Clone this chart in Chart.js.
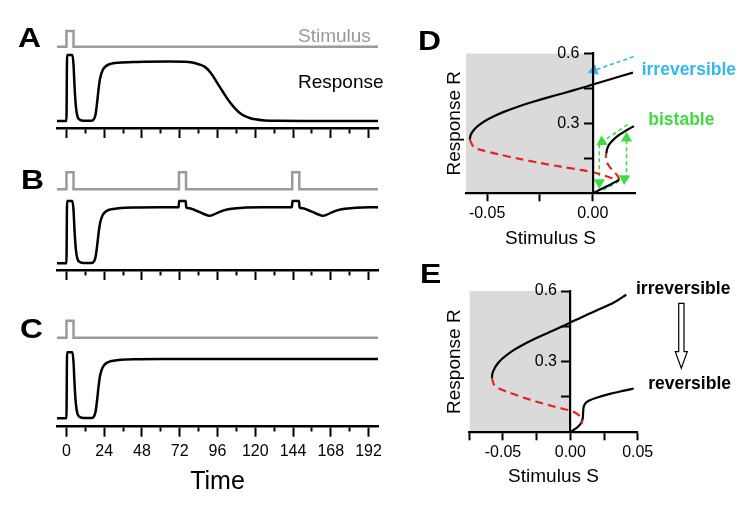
<!DOCTYPE html>
<html>
<head>
<meta charset="utf-8">
<script src="https://cdn.jsdelivr.net/npm/chart.js@4.4.1/dist/chart.umd.min.js"></script>
<style>
  body { margin: 0; background: #fff; width: 750px; height: 515px; position: relative; overflow: hidden;
         font-family: 'Liberation Sans', Arial, sans-serif; }
  canvas { position: absolute; }
  .lbl { position: absolute; line-height: 1; white-space: nowrap; transform: translateY(-50%); }
  .panel { font-weight: bold; font-size: 27px; color: #000; transform: translateY(-50%) scaleX(1.18); transform-origin: left center; }
</style>
</head>
<body>
<canvas id="cA" width="400" height="140" style="left:0;top:0"></canvas>
<canvas id="cB" width="400" height="132" style="left:0;top:150px"></canvas>
<canvas id="cC" width="400" height="215" style="left:0;top:300px"></canvas>
<canvas id="cD" width="350" height="260" style="left:400px;top:0"></canvas>
<canvas id="cE" width="350" height="255" style="left:400px;top:260px"></canvas>

<div class="lbl panel" style="left:18px;top:37.5px">A</div>
<div class="lbl panel" style="left:21px;top:179.7px">B</div>
<div class="lbl panel" style="left:20px;top:329px">C</div>
<div class="lbl panel" style="left:418px;top:40.8px">D</div>
<div class="lbl panel" style="left:420px;top:274px">E</div>
<div class="lbl" style="left:298px;top:35px;font-size:19px;color:#999">Stimulus</div>
<div class="lbl" style="left:298px;top:80.8px;font-size:19px;color:#000">Response</div>
<div class="lbl" style="left:641.7px;top:70px;font-size:17.5px;font-weight:bold;color:#35b8ea">irreversible</div>
<div class="lbl" style="left:648.3px;top:119.7px;font-size:17.5px;font-weight:bold;color:#3fdc3f">bistable</div>
<div class="lbl" style="left:636px;top:289px;font-size:17.5px;font-weight:bold;color:#000">irreversible</div>
<div class="lbl" style="left:648.3px;top:383.8px;font-size:17.5px;font-weight:bold;color:#000">reversible</div>

<script>
// --- TIME COURSE DATA (panels A-C) ---
const timeTicks = [0, 12, 24, 36, 48, 60, 72, 84, 96, 108, 120, 132, 144, 156, 168, 180, 192];

// stimulus on/off
const stimSingle = [[-6, 0], [0, 0], [0, 1], [4.5, 1], [4.5, 0], [198, 0]];
const stimRepeat = [[-6, 0], [0, 0], [0, 1], [4.5, 1], [4.5, 0], [71.5, 0], [71.5, 1], [76, 1], [76, 0],
  [143.5, 0], [143.5, 1], [148, 1], [148, 0], [198, 0]];

// response traces
const respA = [[-6, 0], [0, 0], [0.4, 1], [3.8, 1], [4.5, 0.85], [5.2, 0.5], [6, 0.22], [7, 0.07], [8.5, 0.02],
  [11, 0.005], [16, 0.005], [17.5, 0.03], [18.5, 0.1], [19.5, 0.28], [20.5, 0.5], [21.5, 0.66], [23, 0.77],
  [25, 0.83], [28, 0.865], [33, 0.883], [45, 0.895], [65, 0.9], [75, 0.897], [80, 0.885], [84, 0.86],
  [88, 0.82], [92, 0.72], [96, 0.57], [100, 0.42], [104, 0.28], [108, 0.17], [112, 0.09], [116, 0.05],
  [120, 0.025], [126, 0.008], [135, 0.002], [150, 0], [198, 0]];
const respB = [[-6, 0], [0, 0], [0.4, 1], [3.8, 1], [4.5, 0.85], [5.2, 0.5], [6, 0.22], [7, 0.07], [8.5, 0.02],
  [11, 0.005], [16, 0.005], [17.5, 0.03], [18.5, 0.1], [19.5, 0.28], [20.5, 0.5], [21.5, 0.66], [23, 0.77],
  [25, 0.83], [28, 0.865], [33, 0.883], [45, 0.895], [60, 0.9], [71.3, 0.9], [71.6, 1], [75.8, 1], [76.1, 0.9],
  [78, 0.885], [81, 0.86], [84, 0.83], [87, 0.795], [89.5, 0.77], [91, 0.762], [93, 0.775], [96, 0.81],
  [100, 0.85], [105, 0.875], [112, 0.893], [125, 0.9], [143.3, 0.9], [143.6, 1], [147.8, 1], [148.1, 0.9],
  [150, 0.885], [153, 0.86], [156, 0.83], [159, 0.795], [161.5, 0.77], [163, 0.762], [165, 0.775],
  [168, 0.81], [172, 0.85], [177, 0.875], [184, 0.893], [198, 0.9]];
const respC = [[-6, 0], [0, 0], [0.4, 1], [3.8, 1], [4.5, 0.85], [5.2, 0.5], [6, 0.22], [7, 0.07], [8.5, 0.02],
  [11, 0.005], [16, 0.005], [17.5, 0.03], [18.5, 0.1], [19.5, 0.28], [20.5, 0.5], [21.5, 0.66], [23, 0.77],
  [25, 0.83], [28, 0.865], [33, 0.883], [45, 0.895], [60, 0.9], [198, 0.9]];

// --- BIFURCATION DATA (panels D, E) ---
const upperD = [[-0.0582, 0.231], [-0.0578, 0.25], [-0.0564, 0.27], [-0.0542, 0.29], [-0.051, 0.31],
  [-0.0468, 0.33], [-0.0418, 0.35], [-0.0358, 0.37], [-0.029, 0.39], [-0.0215, 0.41], [-0.0135, 0.43],
  [-0.0058, 0.45], [0, 0.466], [0.0088, 0.49], [0.019, 0.517]];
const unstableD = [[-0.0582, 0.231], [-0.0565, 0.2], [-0.053, 0.186], [-0.045, 0.168], [-0.035, 0.148],
  [-0.025, 0.13], [-0.015, 0.114], [-0.005, 0.099], [0, 0.09], [0.004, 0.08], [0.0075, 0.07], [0.01, 0.062]];
const lowerD = [[0, 0], [0.004, 0.018], [0.008, 0.036], [0.011, 0.05], [0.0125, 0.058]];
const middleD = [[0.0125, 0.058], [0.0118, 0.075], [0.0098, 0.095], [0.0078, 0.115], [0.0066, 0.135],
  [0.0062, 0.155], [0.0064, 0.17]];
const highD = [[0.0064, 0.17], [0.0068, 0.19], [0.0078, 0.21], [0.0098, 0.23], [0.0125, 0.25], [0.016, 0.27],
  [0.0195, 0.288]];
const greenArrows = [
  [[0.0165, 0.294], [0.0043, 0.22]],
  [[0.0031, 0.21], [0.0031, 0.046]],
  [[0.005, 0.015], [0.015, 0.063]],
  [[0.016, 0.06], [0.016, 0.236]]
];
const blueArrow = [[0.0193, 0.586], [0.0005, 0.526]];

const upperE = [[-0.0582, 0.231], [-0.0578, 0.25], [-0.0564, 0.27], [-0.0542, 0.29], [-0.051, 0.31],
  [-0.0468, 0.33], [-0.0418, 0.35], [-0.0358, 0.37], [-0.029, 0.39], [-0.0215, 0.41], [-0.0135, 0.43],
  [-0.0058, 0.45], [0, 0.466], [0.0088, 0.49], [0.0205, 0.52], [0.032, 0.55], [0.0415, 0.584]];
const unstableE = [[-0.0582, 0.231], [-0.0565, 0.2], [-0.053, 0.186], [-0.045, 0.168], [-0.035, 0.148],
  [-0.025, 0.13], [-0.015, 0.114], [-0.005, 0.099], [0, 0.092], [0.004, 0.082], [0.0075, 0.066],
  [0.0088, 0.05], [0.0083, 0.035]];
const reversibleE = [[0, 0], [0.003, 0.012], [0.006, 0.026], [0.0082, 0.042], [0.0092, 0.06], [0.0095, 0.085],
  [0.0098, 0.105], [0.011, 0.122], [0.014, 0.135], [0.02, 0.148], [0.03, 0.164], [0.04, 0.177], [0.047, 0.186]];

const ticksSD = [-0.05, -0.025, 0];
const labelsSD = [-0.05, 0];
const ticksSE = [-0.075, -0.05, -0.025, 0, 0.025, 0.05];
const labelsSE = [-0.05, 0, 0.05];
const ticksR = [0.15, 0.3, 0.45, 0.6];
const labelsR = [0.3, 0.6];

Chart.defaults.font.family = "'Liberation Sans', Arial, sans-serif";
Chart.defaults.color = '#000';

const toXY = (pairs) => pairs.map(([x, y]) => ({ x, y }));

// --- TIME COURSE CHARTS ---
function timeChart(id, stim, resp, yR, yS, pad, showLabels) {
  new Chart(document.getElementById(id), {
    type: 'scatter',
    data: {
      datasets: [
        { data: toXY(stim), yAxisID: 'ys', showLine: true, borderColor: '#9a9a9a', borderWidth: 2.5,
          pointRadius: 0, tension: 0 },
        { data: toXY(resp), yAxisID: 'y', showLine: true, borderColor: '#000', borderWidth: 2.5,
          pointRadius: 0, cubicInterpolationMode: 'monotone' }
      ]
    },
    options: {
      responsive: false, animation: false, devicePixelRatio: 1,
      layout: { padding: pad },
      plugins: { legend: { display: false }, tooltip: { enabled: false } },
      scales: {
        x: {
          type: 'linear', min: -6, max: 198,
          afterBuildTicks: (a) => { a.ticks = timeTicks.map((v) => ({ value: v })); },
          border: { display: true, color: '#000', width: 2.5 },
          grid: { drawOnChartArea: false, tickLength: 10, tickWidth: 2, tickColor: '#000',
                  tickBorderDash: (c) => (c.tick && c.tick.value % 24 ? [4, 30] : []) },
          ticks: { display: showLabels, autoSkip: false, maxRotation: 0, padding: 5.4, font: { size: 16 },
                   callback: (v) => (v % 24 === 0 ? String(v) : '') },
          title: { display: showLabels, text: 'Time', font: { size: 25 }, padding: { top: 0.3, bottom: 0 } }
        },
        y: { display: false, min: yR[0], max: yR[1] },
        ys: { display: false, min: yS[0], max: yS[1] }
      }
    }
  });
}

timeChart('cA', stimSingle, respA, [-0.106, 1.53], [-5.18, 1.70], { left: 57, right: 22, top: 20, bottom: 2 }, false);
timeChart('cB', stimRepeat, respB, [-0.108, 1.658], [-4.75, 1.72], { left: 57, right: 22, top: 10, bottom: 2 }, false);
timeChart('cC', stimSingle, respC, [-0.127, 1.641], [-5.235, 1.63], { left: 57, right: 22, top: 10, bottom: 18 }, true);

// --- BIFURCATION CHARTS ---
const arrowRotation = (ctx) => {
  const d = ctx.dataset.data;
  const s = ctx.chart.scales;
  const a = d[0];
  const b = d[d.length - 1];
  const dx = s.x.getPixelForValue(b.x) - s.x.getPixelForValue(a.x);
  const dy = s.y.getPixelForValue(b.y) - s.y.getPixelForValue(a.y);
  return (Math.atan2(dx, -dy) * 180) / Math.PI;
};

function curve(pairs, color, dashed) {
  return { data: toXY(pairs), showLine: true, borderColor: color, borderWidth: 2.2, pointRadius: 0,
           tension: 0.3, borderDash: dashed ? [8, 5] : [] };
}

function arrow(pairs, color) {
  return { data: toXY(pairs), showLine: true, borderColor: color, borderWidth: 1.6, borderDash: [4, 3],
           pointRadius: [0, 6.5], pointStyle: 'triangle', pointBackgroundColor: color, pointBorderWidth: 0,
           pointRotation: arrowRotation, tension: 0 };
}

function shade(xMin) {
  return { data: toXY([[xMin, 0.6], [0, 0.6]]), showLine: true, borderWidth: 0, pointRadius: 0,
           backgroundColor: '#dadada', fill: 'origin', order: 99 };
}

function bifOptions(xMin, xMax, ticksS, labelsS, pad, tickPad, titlePad, rTitlePad) {
  return {
    responsive: false, animation: false, devicePixelRatio: 1,
    layout: { padding: pad },
    plugins: { legend: { display: false }, tooltip: { enabled: false } },
    scales: {
      x: {
        type: 'linear', min: xMin, max: xMax,
        afterBuildTicks: (a) => { a.ticks = ticksS.map((v) => ({ value: v })); },
        border: { color: '#000', width: 2.2, z: 1 },
        grid: { drawOnChartArea: false, tickLength: 8, tickWidth: 2, tickColor: '#000', z: 1 },
        ticks: { autoSkip: false, maxRotation: 0, padding: tickPad, font: { size: 16 }, z: 1,
                 callback: (v) => (labelsS.includes(v) ? v.toFixed(2) : '') },
        title: { display: true, text: 'Stimulus S', font: { size: 19 }, padding: titlePad }
      },
      y: {
        type: 'linear', min: 0, max: 0.6, position: { x: 0 },
        afterBuildTicks: (a) => { a.ticks = ticksR.map((v) => ({ value: v })); },
        border: { color: '#000', width: 2.2, z: 1 },
        grid: { drawOnChartArea: false, tickLength: 8, tickWidth: 2, tickColor: '#000', z: 1 },
        // label sits right-aligned on the axis line, trailing spaces clear the tick marks
        ticks: { autoSkip: false, padding: 3, font: { size: 16 }, z: 1,
                 callback: (v) => (labelsR.includes(v) ? v.toFixed(1) + '   ' : '') }
      },
      yt: {
        position: 'left',
        grid: { display: false, drawTicks: false },
        border: { display: false },
        ticks: { display: false },
        title: { display: true, text: 'Response R', font: { size: 19 }, padding: rTitlePad }
      }
    }
  };
}

new Chart(document.getElementById('cD'), {
  type: 'scatter',
  data: {
    datasets: [
      curve(upperD, '#000', false),
      curve(unstableD, '#e8231f', true),
      curve(lowerD, '#000', false),
      curve(middleD, '#e8231f', true),
      curve(highD, '#000', false),
      ...greenArrows.map((g) => arrow(g, '#3fdc3f')),
      arrow(blueArrow, '#35b8ea'),
      shade(-0.06)
    ]
  },
  options: bifOptions(-0.06, 0.02, ticksSD, labelsSD, { left: 43.2, right: 115, top: 53.3, bottom: 10.3 }, 2.4,
    { top: 1.6, bottom: 0 }, { top: 0, bottom: 0 })
});

// hollow arrow from "irreversible" to "reversible"
const hollowArrow = {
  id: 'hollowArrow',
  afterDraw(chart) {
    const c = chart.ctx;
    c.save();
    c.beginPath();
    c.moveTo(278.7, 43.3);
    c.lineTo(284, 43.3);
    c.lineTo(284, 91.7);
    c.lineTo(287.3, 91.7);
    c.lineTo(281.3, 108.3);
    c.lineTo(275.3, 91.7);
    c.lineTo(278.7, 91.7);
    c.closePath();
    c.fillStyle = '#fff';
    c.fill();
    c.strokeStyle = '#000';
    c.lineWidth = 1.2;
    c.stroke();
    c.restore();
  }
};

new Chart(document.getElementById('cE'), {
  type: 'scatter',
  data: {
    datasets: [
      curve(upperE, '#000', false),
      curve(unstableE, '#e8231f', true),
      curve(reversibleE, '#000', false),
      shade(-0.075)
    ]
  },
  options: bifOptions(-0.075, 0.05, ticksSE, labelsSE, { left: 43.6, right: 112.3, top: 31, bottom: 26.9 }, 2.8,
    { top: 0.2, bottom: 0 }, { top: 0, bottom: 2.9 }),
  plugins: [hollowArrow]
});
</script>
</body>
</html>
